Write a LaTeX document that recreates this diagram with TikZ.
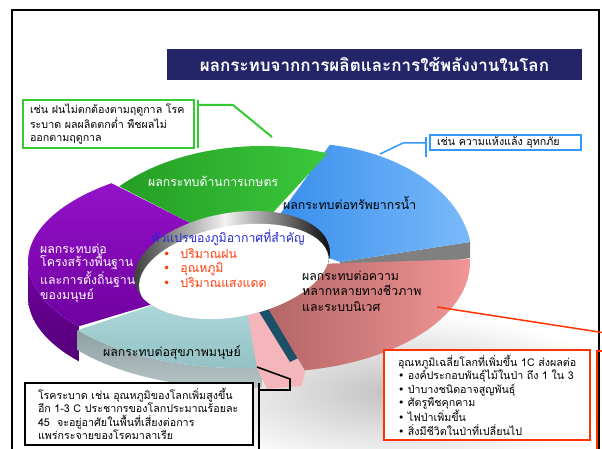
\documentclass[tikz,border=0pt]{standalone}
\usepackage{fontspec}
\newfontfamily\thai[Script=Thai]{Loma}
\newfontfamily\dv{DejaVu Sans}
\usetikzlibrary{calc}
\definecolor{titlebg}{RGB}{36,36,104}
\definecolor{gTop}{RGB}{60,200,60}
\definecolor{gBot}{RGB}{36,158,36}
\definecolor{bA}{RGB}{52,140,236}
\definecolor{bB}{RGB}{122,186,250}
\definecolor{pA}{RGB}{112,0,160}
\definecolor{pB}{RGB}{148,18,200}
\definecolor{pW}{RGB}{84,0,120}
\definecolor{rA}{RGB}{178,100,100}
\definecolor{rB}{RGB}{242,150,150}
\definecolor{hA}{RGB}{176,218,220}
\definecolor{hB}{RGB}{146,192,196}
\definecolor{hW}{RGB}{140,160,162}
\definecolor{lp}{RGB}{244,182,186}
\definecolor{dt}{RGB}{28,80,104}
\definecolor{boxgreen}{RGB}{51,204,51}
\definecolor{boxblue}{RGB}{51,153,255}
\definecolor{boxred}{RGB}{255,51,0}
\definecolor{holeblue}{RGB}{40,40,210}
\definecolor{holered}{RGB}{255,60,10}
\begin{document}
\begin{tikzpicture}[x=1pt,y=-1pt,
  lbl/.style={inner sep=0pt, align=left, font=\thai\fontsize{12.3}{13.8}\selectfont},
  boxtxt/.style={draw, inner sep=0pt, align=left, fill=white, font=\thai\fontsize{10.7}{13.5}\selectfont},
  gline/.style={draw=boxgreen, line width=2pt},
  bline/.style={draw=boxblue, line width=1.5pt},
  rline/.style={draw=boxred, line width=1.5pt},
  kline/.style={draw=black, line width=1.6pt}]
\useasboundingbox (0,0) rectangle (602,449);
\fill[white] (0,0) rectangle (602,449);
% floor shadow
\shade[inner color=black!24, outer color=white] (395,392) ellipse [x radius=225, y radius=80];
% frame
\draw[line width=2pt] (12,10) rectangle (599,455);
% blue segment
\path[fill=black!50] (340,262) -- (470,242) -- (470,258) -- (340,278) -- cycle;
\path[left color=bA, right color=bB] (265,235) -- ($(300,258)+(280:172 and 115)$) arc[start angle=280, end angle=352, x radius=172, y radius=115] -- (340,262) -- cycle;
% green segment
\path[left color=gBot, right color=gTop] (200,228) -- ($(262,268)+(222:192 and 122)$) arc[start angle=222, end angle=290, x radius=192, y radius=122] -- (255,232) -- cycle;
% purple segment
\path[top color=pA, bottom color=pW] ($(245,262)+(140:217 and 100)$) arc[start angle=140, end angle=180, x radius=217, y radius=100] -- ++(0,35) arc[start angle=180, end angle=140, x radius=217, y radius=100] -- cycle;
\path[top color=pB, bottom color=pA] (180,296) -- ($(245,262)+(140:217 and 100)$) arc[start angle=140, end angle=232, x radius=217, y radius=100] -- (200,228) -- cycle;
% health segment
\path[top color=hW, bottom color=hW!60!white] ($(240,262)+(84:212 and 106)$) arc[start angle=84, end angle=140, x radius=212, y radius=106] -- ++(0,20) arc[start angle=140, end angle=84, x radius=212, y radius=106] -- cycle;
\path[top color=hA, bottom color=hB] (250,300) -- ($(240,262)+(84:212 and 106)$) arc[start angle=84, end angle=140, x radius=212, y radius=106] -- (180,296) -- cycle;
% light pink slice
\path[fill=lp] (245,300) -- (262,298) -- (305,372) -- (302,386) -- (267,389) -- (257,368) -- cycle;
% pink segment face and top
\path[fill=dt] (262,298) -- (298,358) -- (290,362) -- (253,302) -- cycle;
\path[left color=rA, right color=rB] (262,298) -- (285,265) -- ($(270,262)+(-1.5:200 and 110)$) arc[start angle=-1.5, end angle=80, x radius=200, y radius=110] -- cycle;
% hole
\begin{scope}
\clip[rotate around={10:(232,265)}] (232,265) ellipse [x radius=99, y radius=52];
\shade[left color=black!80, right color=black!5] (128,205) rectangle (225,325);
\shade[left color=black!5, right color=black] (224.5,205) rectangle (336,325);
\fill[white, rotate around={10:(234,273)}] (234,273) ellipse [x radius=96, y radius=47];
\end{scope}
% segment labels
\node[lbl, text=white, anchor=west] (lg) at (148,181) {ผลกระทบด้านการเกษตร};
\node[lbl, anchor=west] (lb) at (283,203) {ผลกระทบต่อทรัพยากรน้ำ};
\node[lbl, text=white, anchor=west] (lpu) at (40,273) {ผลกระทบต่อ\\โครงสร้างพื้นฐาน\\และการตั้งถิ่นฐาน\\ของมนุษย์};
\node[lbl, anchor=west, font=\thai\fontsize{12.3}{15.5}\selectfont] (lpk) at (302,291) {ผลกระทบต่อความ\\หลากหลายทางชีวภาพ\\และระบบนิเวศ};
\node[lbl, anchor=west] (lh) at (103,353) {ผลกระทบต่อสุขภาพมนุษย์};
\node[lbl, text=holeblue] (ht) at (228,238) {ตัวแปรของภูมิอากาศที่สำคัญ};
\node[lbl, text=holered, anchor=west, font=\thai\fontsize{12.3}{14.5}\selectfont] (hl) at (163,268) {{\dv •}\hspace{10pt}ปริมาณฝน\\{\dv •}\hspace{10pt}อุณหภูมิ\\{\dv •}\hspace{10pt}ปริมาณแสงแดด};
% title
\node[fill=titlebg, text=white, minimum width=415pt, minimum height=31pt, inner sep=0pt, font=\thai\bfseries\fontsize{17}{20}\selectfont] (title) at (374.5,64.5) {ผลกระทบจากการผลิตและการใช้พลังงานในโลก};
% boxes
\node[boxtxt, draw=boxgreen, line width=2pt, minimum width=171pt, minimum height=48pt, text width=157pt] (gbox) at (108.5,124) {\mbox{เช่น ฝนไม่ตกต้องตามฤดูกาล โรค}\\\mbox{ระบาด ผลผลิตตกต่ำ พืชผลไม่}\\\mbox{ออกตามฤดูกาล}};
\node[boxtxt, draw=boxblue, line width=1.5pt, minimum width=151pt, minimum height=15pt, text width=137pt] (bbox) at (505.5,142.5) {\mbox{เช่น ความแห้งแล้ง อุทกภัย}};
\node[boxtxt, draw=black, line width=1.6pt, minimum width=228pt, minimum height=62pt, text width=202pt] (kbox) at (139,414) {\mbox{โรคระบาด เช่น อุณหภูมิของโลกเพิ่มสูงขึ้น}\\\mbox{อีก 1-3 C ประชากรของโลกประมาณร้อยละ}\\\mbox{45\ \ จะอยู่อาศัยในพื้นที่เสี่ยงต่อการ}\\\mbox{แพร่กระจายของโรคมาลาเรีย}};
\node[boxtxt, draw=boxred, line width=2pt, minimum width=206pt, minimum height=90pt, text width=178pt] (rbox) at (487,395) {\mbox{อุณหภูมิเฉลี่ยโลกที่เพิ่มขึ้น 1C ส่งผลต่อ}\\\mbox{{\dv •} องค์ประกอบพันธุ์ไม้ในป่า ถึง 1 ใน 3}\\\mbox{{\dv •} ป่าบางชนิดอาจสูญพันธุ์}\\\mbox{{\dv •} ศัตรูพืชคุกคาม}\\\mbox{{\dv •} ไฟป่าเพิ่มขึ้น}\\\mbox{{\dv •} สิ่งมีชีวิตในป่าที่เปลี่ยนไป}};
% connectors
\coordinate (g1) at (198,100); \coordinate (g2) at (198,148);
\coordinate (g3) at (198,105); \coordinate (g4) at (233,105); \coordinate (gt) at (272,137);
\draw[gline] (g1) -- (g2);
\draw[gline] (g3) -- (g4) -- (gt);
\coordinate (b1) at (426,137); \coordinate (b2) at (426,157);
\coordinate (b3) at (426,143); \coordinate (b4) at (403,143); \coordinate (bt) at (380,154);
\draw[bline] (b1) -- (b2);
\draw[bline] (b3) -- (b4) -- (bt);
\coordinate (r1) at (437,307); \coordinate (r2) at (612,334);
\coordinate (r3) at (597,351); \coordinate (r4) at (597,452); \coordinate (r5) at (606,351);
\draw[rline] (r1) -- (r2);
\draw[rline] (r5) -- (r3) -- (r4);
\coordinate (k1) at (257,367); \coordinate (k2) at (290,379); \coordinate (k3) at (290,390); \coordinate (k4) at (259,390);
\coordinate (k5) at (259,383); \coordinate (k6) at (259,452);
\draw[kline] (k1) -- (k2) -- (k3) -- (k4);
\draw[kline] (k5) -- (k6);
\end{tikzpicture}
\end{document}
